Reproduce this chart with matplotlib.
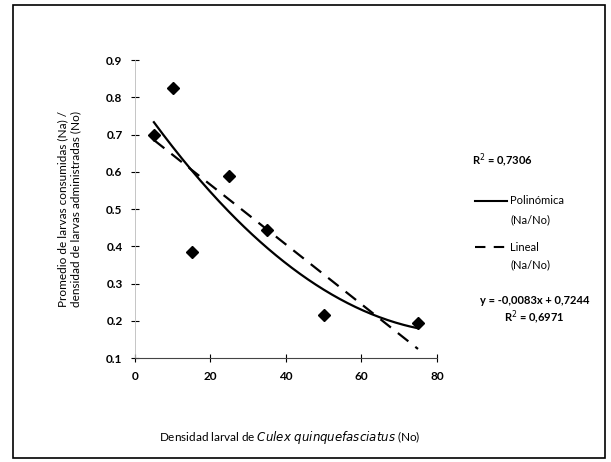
import numpy as np
import matplotlib
matplotlib.use('Agg')
import matplotlib.pyplot as plt
from matplotlib.lines import Line2D
from matplotlib.patches import Rectangle

plt.rcParams['font.family'] = ['Lato', 'DejaVu Sans']

# data
densidad = [5, 10, 15, 25, 35, 50, 75]
promedio = [0.70, 0.825, 0.385, 0.59, 0.445, 0.215, 0.195]
x_ticks = [0, 20, 40, 60, 80]
y_ticks = [0.1, 0.2, 0.3, 0.4, 0.5, 0.6, 0.7, 0.8, 0.9]
r2_poli = 'R$^2$ = 0,7306'
eq_lineal = 'y = -0,0083x + 0,7244'
r2_lineal = 'R$^2$ = 0,6971'

fig = plt.figure(figsize=(6.11, 4.62), dpi=100)
ax = fig.add_axes([0.221, 0.225, 0.494, 0.645])

# trend lines fitted to the points
xs = np.linspace(min(densidad), max(densidad), 200)
c2 = np.polyfit(densidad, promedio, 2)
c1 = np.polyfit(densidad, promedio, 1)
ax.plot(xs, np.polyval(c2, xs), '-', color='black', lw=1.6)
ax.plot(xs, np.polyval(c1, xs), '--', color='black', lw=1.6, dashes=(6, 4))
ax.plot(densidad, promedio, 'D', color='black', ms=6.5)

ax.set_xlim(0, 80)
ax.set_ylim(0.1, 0.9)
ax.set_xticks(x_ticks)
ax.set_yticks(y_ticks)
ax.set_yticklabels(['%.1f' % v for v in y_ticks])
ax.tick_params(direction='inout', length=6, width=0.8, labelsize=8.5, pad=6)
for lab in ax.get_xticklabels() + ax.get_yticklabels():
    lab.set_fontweight('bold')

for s in ['top', 'right']:
    ax.spines[s].set_visible(False)
ax.spines['left'].set_color('#bbbbbb')
ax.spines['left'].set_linewidth(0.6)
ax.spines['bottom'].set_color('#444444')
ax.spines['bottom'].set_linewidth(0.8)

ax.set_ylabel('Promedio de larvas consumidas (Na) /\ndensidad de larvas administradas (No)',
              fontsize=8.5, labelpad=18)
fig.text(0.475, 0.052, 'Densidad larval de $\\it{Culex\\ quinquefasciatus}$ (No)',
         ha='center', va='center', fontsize=8.5)

# right side legend block
fig.text(0.772, 0.653, r2_poli, fontsize=8, fontweight='bold', va='center')
fig.add_artist(Line2D([0.777, 0.830], [0.565, 0.565], color='black', lw=1.5))
fig.text(0.835, 0.565, 'Polinómica', fontsize=8, va='center')
fig.text(0.835, 0.525, '(Na/No)', fontsize=8, va='center')
fig.add_artist(Line2D([0.777, 0.830], [0.465, 0.465], color='black', lw=1.5,
                      linestyle='--', dashes=(5, 4)))
fig.text(0.835, 0.465, 'Lineal', fontsize=8, va='center')
fig.text(0.835, 0.426, '(Na/No)', fontsize=8, va='center')
fig.text(0.875, 0.350, eq_lineal, fontsize=8, fontweight='bold', ha='center', va='center')
fig.text(0.875, 0.313, r2_lineal, fontsize=8, fontweight='bold', ha='center', va='center')

# outer frame
fig.add_artist(Rectangle((0.022, 0.009), 0.968, 0.981, transform=fig.transFigure,
                         fill=False, edgecolor='black', lw=1.2))

fig.savefig('out.png', dpi=100)
